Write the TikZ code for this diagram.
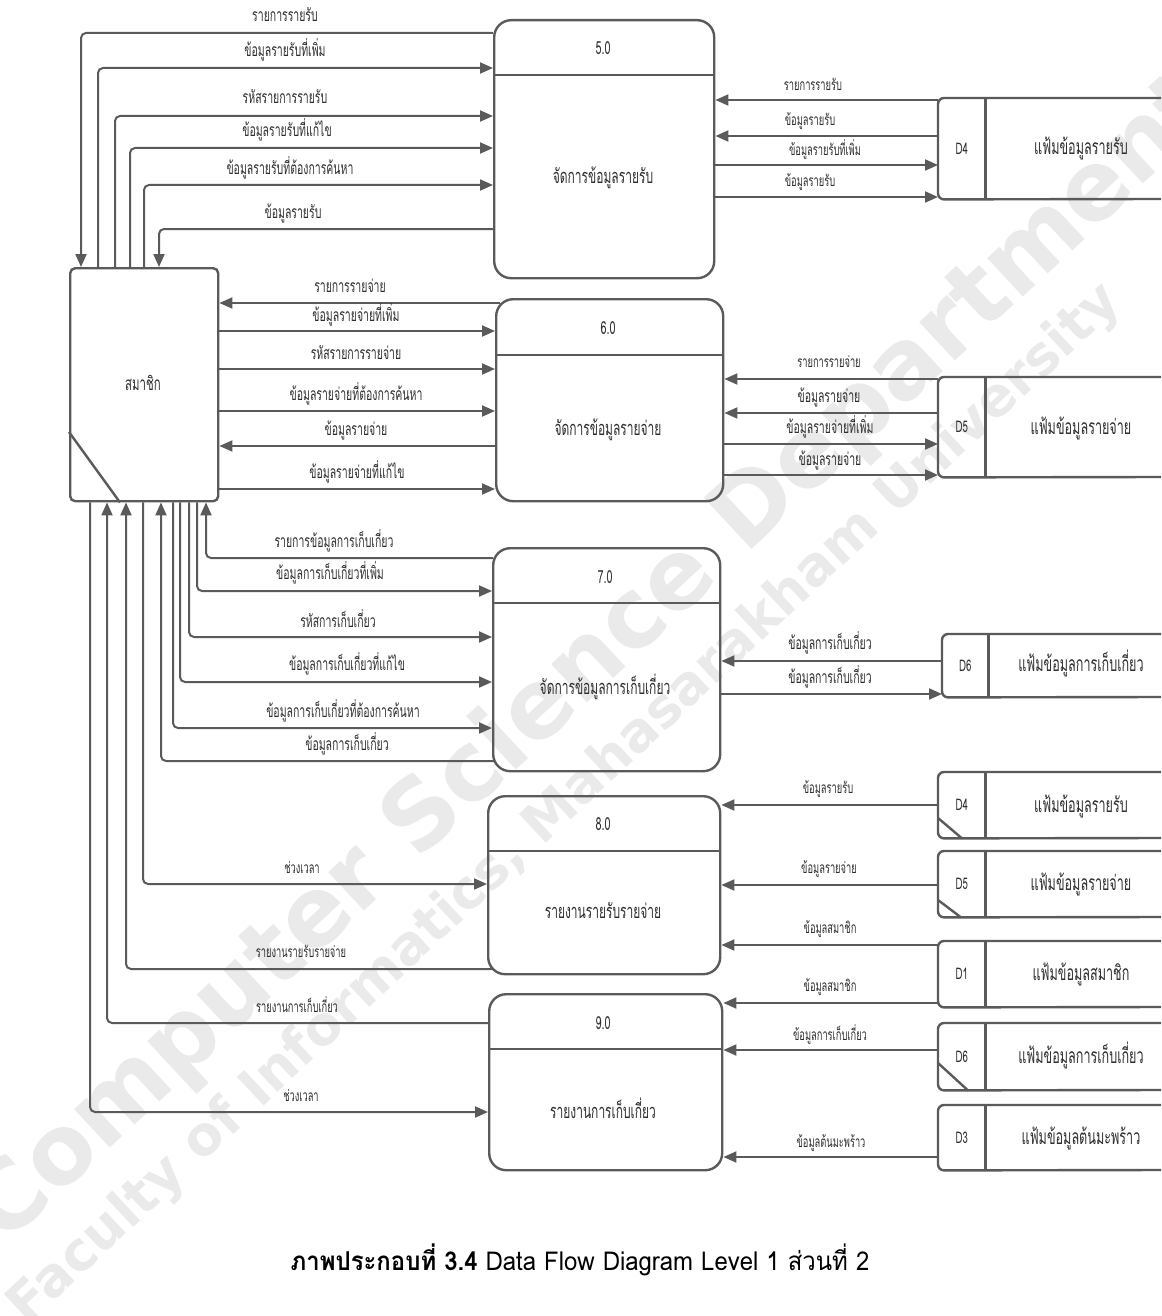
\documentclass[tikz,border=0pt]{standalone}
\usepackage{fontspec}
\usetikzlibrary{arrows.meta}
\newfontfamily\thai[Script=Thai,FakeStretch=0.6]{Loma}
\newfontfamily\thaicap[Script=Thai,FakeStretch=0.92]{Loma}
\newfontfamily\wmfont{DejaVu Sans}
\definecolor{ln}{HTML}{5A5A5A}
\definecolor{tx}{HTML}{2E2E2E}
\definecolor{wm}{HTML}{EAEAEA}
\tikzset{
  procbox/.style={draw=ln, line width=2.4pt, rounded corners=17pt, anchor=north west, inner sep=0pt},
  membox/.style={draw=ln, line width=2.4pt, rounded corners=5pt, anchor=north west, inner sep=0pt},
  idcell/.style={anchor=north west, inner sep=0pt, minimum width=47pt, text=tx, font=\thai\fontsize{16}{16}\selectfont},
  boxline/.style={draw=ln, line width=2.4pt},
  storeline/.style={draw=ln, line width=2.4pt, rounded corners=6pt},
  flow/.style={draw=ln, line width=2pt, rounded corners=5pt, -{Triangle[length=13pt,width=11pt]}},
  lblA/.style={text=tx, inner sep=0pt, anchor=base, yshift=-5pt, font=\thai\fontsize{17.5}{17.5}\selectfont},
  lblB/.style={text=tx, inner sep=0pt, anchor=base, yshift=-4.5pt, font=\thai\fontsize{15.5}{15.5}\selectfont},
  ttl/.style={text=tx, inner sep=0pt, anchor=base, yshift=-6pt, font=\thai\fontsize{20}{20}\selectfont},
  sname/.style={text=tx, inner sep=0pt, anchor=base, yshift=-6pt, font=\thai\fontsize{21}{21}\selectfont},
  numlbl/.style={text=tx, inner sep=0pt, anchor=base, yshift=-6.5pt, font=\thai\fontsize{18}{18}\selectfont},
  wmtext/.style={text=wm, inner sep=0pt, rotate=43, font=\wmfont\bfseries},
}
\begin{document}
\begin{tikzpicture}[x=1pt,y=-1pt]
\useasboundingbox (0,0) rectangle (1161,1316);
% watermark
\node[wmtext, font=\wmfont\bfseries\fontsize{96}{96}\selectfont] (wm1) at (595,660) {Computer Science Department};
\node[wmtext, font=\wmfont\bfseries\fontsize{54}{54}\selectfont] (wm2) at (565,805) {Faculty of Informatics, Mahasarakham University};

% external entity
\node[membox, minimum width=148pt, minimum height=233pt] (mem) at (69,267) {};
\draw[boxline] (mem.west |- 0,432) -- (mem.south -| 120,0);
\node[ttl, font=\thai\fontsize{19}{19}\selectfont] (memt) at (143,384) {สมาชิก};

% processes
\node[procbox, minimum width=220pt, minimum height=258pt] (p5) at (493,19) {};
\draw[boxline] (p5.west |- 0,75) -- (p5.east |- 0,75);
\node[numlbl] (p5n) at (603,48) {5.0};
\node[ttl] (p5t) at (603,178) {จัดการข้อมูลรายรับ};

\node[procbox, minimum width=227pt, minimum height=202pt] (p6) at (495,298) {};
\draw[boxline] (p6.west |- 0,355) -- (p6.east |- 0,355);
\node[numlbl] (p6n) at (608,328) {6.0};
\node[ttl] (p6t) at (608,429) {จัดการข้อมูลรายจ่าย};

\node[procbox, minimum width=227pt, minimum height=223pt] (p7) at (492,547) {};
\draw[boxline] (p7.west |- 0,603) -- (p7.east |- 0,603);
\node[numlbl] (p7n) at (605,577) {7.0};
\node[ttl] (p7t) at (605,688) {จัดการข้อมูลการเก็บเกี่ยว};

\node[procbox, minimum width=232pt, minimum height=178pt] (p8) at (487,795) {};
\draw[boxline] (p8.west |- 0,851) -- (p8.east |- 0,851);
\node[numlbl] (p8n) at (603,824) {8.0};
\node[ttl] (p8t) at (603,912) {รายงานรายรับรายจ่าย};

\node[procbox, minimum width=233pt, minimum height=176pt] (p9) at (488,993) {};
\draw[boxline] (p9.west |- 0,1049) -- (p9.east |- 0,1049);
\node[numlbl] (p9n) at (603,1023) {9.0};
\node[ttl] (p9t) at (603,1112) {รายงานการเก็บเกี่ยว};

% data stores
\node[idcell, minimum height=101pt] (d4a) at (938,98) {D4};
\draw[storeline] (1161,98) -- (d4a.north west) -- (d4a.south west) -- (1161,199);
\draw[boxline] (d4a.north east) -- (d4a.south east);
\node[sname] (d4an) at (1081,149) {แฟ้มข้อมูลรายรับ};

\node[idcell, minimum height=100pt] (d5a) at (938,377) {D5};
\draw[storeline] (1161,377) -- (d5a.north west) -- (d5a.south west) -- (1161,477);
\draw[boxline] (d5a.north east) -- (d5a.south east);
\node[sname] (d5an) at (1081,428) {แฟ้มข้อมูลรายจ่าย};

\node[idcell, minimum width=46pt, minimum height=63pt] (d6a) at (942,634) {D6};
\draw[storeline] (1161,634) -- (d6a.north west) -- (d6a.south west) -- (1161,697);
\draw[boxline] (d6a.north east) -- (d6a.south east);
\node[sname] (d6an) at (1081,665) {แฟ้มข้อมูลการเก็บเกี่ยว};

\node[idcell, minimum height=66pt] (d4b) at (938,772) {D4};
\draw[storeline] (1161,772) -- (d4b.north west) -- (d4b.south west) -- (1161,838);
\draw[boxline] (d4b.north east) -- (d4b.south east);
\draw[boxline] (d4b.west |- 0,818) -- (d4b.south -| 962,0);
\node[sname] (d4bn) at (1081,806) {แฟ้มข้อมูลรายรับ};

\node[idcell, minimum height=66pt] (d5b) at (938,851) {D5};
\draw[storeline] (1161,851) -- (d5b.north west) -- (d5b.south west) -- (1161,917);
\draw[boxline] (d5b.north east) -- (d5b.south east);
\draw[boxline] (d5b.west |- 0,900) -- (d5b.south -| 961,0);
\node[sname] (d5bn) at (1081,884) {แฟ้มข้อมูลรายจ่าย};

\node[idcell, minimum height=66pt] (d1) at (938,941) {D1};
\draw[storeline] (1161,941) -- (d1.north west) -- (d1.south west) -- (1161,1007);
\draw[boxline] (d1.north east) -- (d1.south east);
\node[sname] (d1n) at (1081,974) {แฟ้มข้อมูลสมาชิก};

\node[idcell, minimum height=67pt] (d6b) at (938,1023) {D6};
\draw[storeline] (1161,1023) -- (d6b.north west) -- (d6b.south west) -- (1161,1090);
\draw[boxline] (d6b.north east) -- (d6b.south east);
\draw[boxline] (d6b.west |- 0,1063) -- (d6b.south -| 968,0);
\node[sname] (d6bn) at (1081,1057) {แฟ้มข้อมูลการเก็บเกี่ยว};

\node[idcell, minimum height=65pt] (d3) at (938,1105) {D3};
\draw[storeline] (1161,1105) -- (d3.north west) -- (d3.south west) -- (1161,1170);
\draw[boxline] (d3.north east) -- (d3.south east);
\node[sname] (d3n) at (1081,1138) {แฟ้มข้อมูลต้นมะพร้าว};

% member <-> 5.0
\draw[flow] (p5.west |- 0,33) -| (mem.north -| 81,0);
\draw[flow] (mem.north -| 98,0) |- (p5.west |- 0,68);
\draw[flow] (mem.north -| 115,0) |- (p5.west |- 0,116);
\draw[flow] (mem.north -| 130,0) |- (p5.west |- 0,148);
\draw[flow] (mem.north -| 144,0) |- (p5.west |- 0,185);
\draw[flow] (p5.west |- 0,229) -| (mem.north -| 159,0);
\node[lblA] (l51) at (285,17) {รายการรายรับ};
\node[lblA] (l52) at (285,52) {ข้อมูลรายรับที่เพิ่ม};
\node[lblA] (l53) at (285,99) {รหัสรายการรายรับ};
\node[lblA] (l54) at (287,132) {ข้อมูลรายรับที่แก้ไข};
\node[lblA] (l55) at (290,170) {ข้อมูลรายรับที่ต้องการค้นหา};
\node[lblA] (l56) at (293,213) {ข้อมูลรายรับ};

% member <-> 6.0
\draw[flow] ([xshift=5pt]p6.west |- 0,303) -- (mem.east |- 0,303);
\draw[flow] (mem.east |- 0,331) -- (p6.west |- 0,331);
\draw[flow] (mem.east |- 0,369) -- (p6.west |- 0,369);
\draw[flow] (mem.east |- 0,411) -- (p6.west |- 0,411);
\draw[flow] (p6.west |- 0,446) -- (mem.east |- 0,446);
\draw[flow] (mem.east |- 0,489) -- (p6.west |- 0,489);
\node[lblA] (l61) at (350,287) {รายการรายจ่าย};
\node[lblA] (l62) at (356,316) {ข้อมูลรายจ่ายที่เพิ่ม};
\node[lblA] (l63) at (356,354) {รหัสรายการรายจ่าย};
\node[lblA] (l64) at (356,395) {ข้อมูลรายจ่ายที่ต้องการค้นหา};
\node[lblA] (l65) at (356,430) {ข้อมูลรายจ่าย};
\node[lblA] (l66) at (357,473) {ข้อมูลรายจ่ายที่แก้ไข};

% member <-> 7.0
\draw[flow] ([xshift=1pt]p7.west |- 0,558) -| (mem.south -| 206,0);
\draw[flow] (mem.south -| 197,0) |- (p7.west |- 0,591);
\draw[flow] (mem.south -| 189,0) |- (p7.west |- 0,637);
\draw[flow] (mem.south -| 180,0) |- (p7.west |- 0,682);
\draw[flow] (mem.south -| 173,0) |- (p7.west |- 0,728);
\draw[flow] ([xshift=2pt]p7.west |- 0,761) -| (mem.south -| 161,0);
\node[lblA] (l71) at (334,542) {รายการข้อมูลการเก็บเกี่ยว};
\node[lblA] (l72) at (330,574) {ข้อมูลการเก็บเกี่ยวที่เพิ่ม};
\node[lblA] (l73) at (338,622) {รหัสการเก็บเกี่ยว};
\node[lblA] (l74) at (347,665) {ข้อมูลการเก็บเกี่ยวที่แก้ไข};
\node[lblA] (l75) at (343,712) {ข้อมูลการเก็บเกี่ยวที่ต้องการค้นหา};
\node[lblA] (l76) at (347,745) {ข้อมูลการเก็บเกี่ยว};

% member <-> 8.0 / 9.0
\draw[flow] (mem.south -| 143,0) |- (p8.west |- 0,884);
\draw[flow] ([xshift=5pt]p8.west |- 0,969) -| (mem.south -| 126,0);
\draw[flow] (p9.west |- 0,1023) -| (mem.south -| 107,0);
\draw[flow] (mem.south -| 90,0) |- (p9.west |- 0,1112);
\node[lblB] (l81) at (302,869) {ช่วงเวลา};
\node[lblB] (l82) at (301,953) {รายงานรายรับรายจ่าย};
\node[lblB] (l91) at (297,1008) {รายงานการเก็บเกี่ยว};
\node[lblB] (l92) at (301,1097) {ช่วงเวลา};

% 5.0 <-> D4
\draw[flow] (d4a.west |- 0,100) -- (p5.east |- 0,100);
\draw[flow] (d4a.west |- 0,136) -- (p5.east |- 0,136);
\draw[flow] (p5.east |- 0,165) -- (d4a.west |- 0,165);
\draw[flow] (p5.east |- 0,197) -- (d4a.west |- 0,197);
\node[lblB] (r51) at (813,86) {รายการรายรับ};
\node[lblB] (r52) at (810,121) {ข้อมูลรายรับ};
\node[lblB] (r53) at (825,151) {ข้อมูลรายรับที่เพิ่ม};
\node[lblB] (r54) at (810,182) {ข้อมูลรายรับ};

% 6.0 <-> D5
\draw[flow] (d5a.west |- 0,379) -- (p6.east |- 0,379);
\draw[flow] (d5a.west |- 0,413) -- (p6.east |- 0,413);
\draw[flow] (p6.east |- 0,444) -- (d5a.west |- 0,444);
\draw[flow] (p6.east |- 0,475) -- (d5a.west |- 0,475);
\node[lblB] (r61) at (829,363) {รายการรายจ่าย};
\node[lblA] (r62) at (829,397) {ข้อมูลรายจ่าย};
\node[lblA] (r63) at (830,428) {ข้อมูลรายจ่ายที่เพิ่ม};
\node[lblA] (r64) at (830,460) {ข้อมูลรายจ่าย};

% 7.0 <-> D6
\draw[flow] (d6a.west |- 0,661) -- (p7.east |- 0,661);
\draw[flow] (p7.east |- 0,694) -- (d6a.west |- 0,694);
\node[lblA] (r71) at (830,644) {ข้อมูลการเก็บเกี่ยว};
\node[lblA] (r72) at (830,678) {ข้อมูลการเก็บเกี่ยว};

% stores -> 8.0
\draw[flow] (d4b.west |- 0,805) -- (p8.east |- 0,805);
\draw[flow] (d5b.west |- 0,885) -- (p8.east |- 0,885);
\draw[flow] (d1.west |- 0,945) -- (p8.east |- 0,945);
\node[lblB] (r81) at (828,789) {ข้อมูลรายรับ};
\node[lblB] (r82) at (829,869) {ข้อมูลรายจ่าย};
\node[lblB] (r83) at (830,929) {ข้อมูลสมาชิก};

% stores -> 9.0
\draw[flow] (d1.west |- 0,1003) -- (p9.east |- 0,1003);
\draw[flow] (d6b.west |- 0,1050) -- (p9.east |- 0,1050);
\draw[flow] (d3.west |- 0,1157) -- (p9.east |- 0,1157);
\node[lblB] (r91) at (830,987) {ข้อมูลสมาชิก};
\node[lblB] (r92) at (830,1036) {ข้อมูลการเก็บเกี่ยว};
\node[lblB] (r93) at (831,1143) {ข้อมูลต้นมะพร้าว};

% caption
\node[text=black, inner sep=0pt, anchor=base, yshift=-8pt, font=\thaicap\fontsize{26}{26}\selectfont] (cap) at (580,1262) {{\bfseries ภาพประกอบที่ 3.4} Data Flow Diagram Level 1 ส่วนที่ 2};
\end{tikzpicture}
\end{document}
